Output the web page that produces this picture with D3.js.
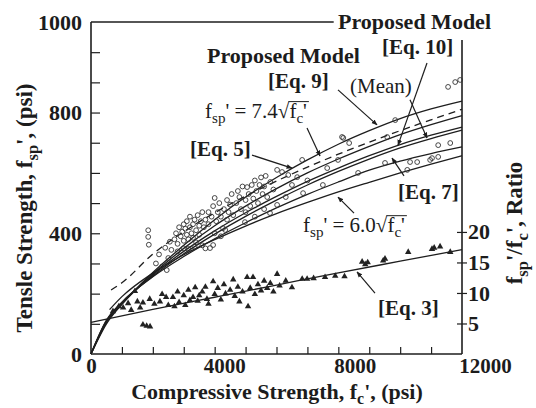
<!DOCTYPE html>
<html><head><meta charset="utf-8">
<script src="https://cdn.jsdelivr.net/npm/d3@7"></script>
<style>
html,body{margin:0;padding:0;background:#fff;}
svg text{font-family:"Liberation Serif","Times New Roman",Times,"DejaVu Serif","Noto Serif",serif;fill:#1c1c1c;}
</style></head><body>
<svg id="chart" width="536" height="408"></svg>
<script>
// ---------------- DATA ----------------
const fcGrid = [0, 500, 1000, 2000, 3000, 4000, 5000, 6000, 7000, 8000, 9000, 10000, 11000, 12000];
const eq9Fsp  = [0, 100, 165, 270, 360, 445, 520, 585, 643, 695, 740, 780, 812, 838];
const eq5Fsp  = [0, 105, 165, 265, 350, 425, 490, 548, 600, 646, 688, 727, 760, 790];
const meanFsp = [0, 108, 168, 262, 340, 408, 468, 522, 572, 616, 657, 694, 725, 752];
const eq10Fsp = [0, 110, 170, 258, 332, 397, 456, 510, 560, 605, 646, 683, 714, 742];
const eq7Fsp  = [0, 112, 172, 256, 323, 382, 435, 484, 529, 570, 609, 639, 664, 686];

const sqrt74Fc  = [650, 1000, 2000, 3000, 4000, 5000, 6000, 7000, 8000, 9000, 10000, 11000, 12000];
const sqrt74Fsp = [212, 236, 331, 405, 468, 523, 573, 619, 662, 702, 740, 776, 811];
const sqrt60Fc  = [600, 1000, 2000, 3000, 4000, 5000, 6000, 7000, 8000, 9000, 10000, 11000, 12000];
const sqrt60Fsp = [147, 190, 268, 329, 379, 424, 465, 502, 537, 569, 600, 629, 657];

const eq3Fc    = [0, 2000, 4000, 6000, 8000, 10000, 12000];
const eq3Ratio = [5.2, 7.3, 9.3, 11.3, 13.3, 15.2, 17.1];

// splitting tensile strength tests (fc', fsp')
const splitTests = [
 [1850,410],[1850,388],[1870,362],
 [2100,300],[2300,290],[2450,278],[2500,318],[2600,345],[2200,330],[2400,352],[2550,372],
 [2700,380],[2750,400],[2800,365],[2850,420],[2900,390],[2950,405],[3000,375],[3000,430],[3050,415],
 [3100,395],[3100,440],[3150,380],[3200,420],[3200,455],[3250,400],[3300,430],[3300,385],[3350,445],
 [3400,410],[3400,370],[3450,460],[3500,425],[3500,395],[3550,440],[3600,470],[3600,360],[2800,340],
 [3000,350],[3150,348],[3350,355],[3700,350],[3850,351],[3950,361],[3650,420],[3700,445],
 [3800,430],[3800,470],[3900,455],[3950,490],[4000,517],[4050,440],[4100,470],[4150,500],[4200,455],
 [4270,417],[4300,480],[4340,411],[4400,510],[4450,470],[4500,495],[4550,530],[4600,460],[4000,400],
 [4200,390],[4400,445],
 [4700,500],[4750,540],[4800,520],[4850,480],[4900,555],[4980,437],[5000,510],[5050,553],[5100,530],
 [5150,490],[5200,560],[5250,515],[5300,575],[5350,540],[5400,500],[5450,560],[5500,585],[5550,530],
 [5600,555],[5650,590],[5700,520],[5790,467],[5800,570],[5900,545],[6020,494],[6020,610],[5000,470],
 [5300,455],[5600,480],
 [6180,603],[6380,593],[6670,586],[6830,643],[6860,533],[6500,560],[6300,520],[7000,575],
 [7640,616],[7990,643],[8120,719],[8160,716],[8640,600],[7500,560],[8350,699],
 [9510,633],[9580,719],[9840,775],[10230,610],[10320,636],[11030,649],[11230,653],[11230,692],
 [11620,699],[11550,885],[11780,901],[11940,908],[10550,636],[10970,643]
];
// ratio tests (fc', fsp'/fc' ratio)
const ratioTests = [
 [710,7.0],[900,7.8],[1040,7.6],[1200,8.3],[1300,7.2],[1420,10.3],[1500,8.6],[1590,7.6],[1680,8.4],
 [1680,4.8],[1800,4.6],[1910,4.5],[1900,9.0],[2050,8.2],[2230,8.6],[2300,9.8],[2430,9.3],[2500,8.0],
 [2650,9.3],[2700,7.8],[2800,10.2],[2850,8.5],[3000,9.6],[3050,8.0],[3150,10.5],[3200,8.8],[3300,9.3],
 [3370,10.9],[3450,8.7],[3500,9.6],[3600,10.2],[3700,11.0],[3750,9.0],[3800,8.2],[3950,11.9],[4000,9.8],
 [4100,10.8],[4200,8.9],[4300,11.4],[4350,9.9],[4500,10.5],[4600,12.2],[4650,9.5],[4750,11.0],[4800,8.6],
 [4900,10.2],[5050,12.6],[5080,7.8],[5150,10.8],[5240,12.6],[5300,9.8],[5400,11.4],[5500,10.4],[5600,12.0],
 [5700,10.8],[5800,11.6],[5900,10.2],[6020,13.1],[6100,11.2],[6300,12.0],[6500,10.9],[6830,12.3],
 [6990,12.3],[7200,12.4],[7570,12.6],[7900,12.8],[8200,12.7],[8770,15.1],[8870,14.7],[8950,15.0],
 [9450,15.3],[9510,15.6],[10260,16.7],[11030,17.2],[11290,17.6],[11620,16.7],[11100,17.4]
];

const xTickValues = [0, 4000, 8000, 12000];
const xTickLabels = ["0", "4000", "8000", "12000"];
const yTickValues = [0, 400, 800, 1100];
const yTickLabels = ["0", "400", "800", "1000"];
const rTickValues = [5, 10, 15, 20];

// ---------------- LAYOUT ----------------
const W = 536, H = 408;
const m = {left: 91, right: 74, top: 22, bottom: 54};
const FONT = '"Liberation Serif","Times New Roman",Times,"DejaVu Serif","Noto Serif",serif';
const svg = d3.select("#chart").attr("font-family", FONT);
const x = d3.scaleLinear().domain([0, 12000]).range([m.left, W - m.right]);
const y = d3.scaleLinear().domain([0, 1100]).range([H - m.bottom, m.top]);
const yR = d3.scaleLinear().domain([0, 54.4]).range([H - m.bottom, m.top]);
const ink = "#1e1e1e";

// frame
const frame = svg.append("g").attr("stroke", ink).attr("stroke-width", 1.6).attr("fill", "none");
frame.append("line").attr("x1", x(0)).attr("x2", x(0)).attr("y1", y(1100)).attr("y2", y(0));
frame.append("line").attr("x1", x(0)).attr("x2", x(12000)).attr("y1", y(0)).attr("y2", y(0));
frame.append("line").attr("x1", x(0)).attr("x2", x(7850)).attr("y1", y(1100)).attr("y2", y(1100));
frame.append("line").attr("x1", x(12000)).attr("x2", x(12000)).attr("y1", y(1040)).attr("y2", y(0));

function styleAxisText(g, size) {
  g.attr("font-family", FONT);
  g.selectAll("text").attr("font-size", size).attr("font-weight", "bold").attr("fill", ink);
}

// left minor ticks (inward)
const gL = svg.append("g").attr("transform", `translate(${x(0)},0)`)
  .call(d3.axisRight(y).tickValues(d3.range(100, 1100, 100)).tickSize(9).tickSizeOuter(0).tickFormat(""));
gL.select(".domain").remove();
gL.selectAll("line").attr("stroke", ink).attr("stroke-width", 1.2);
// left labels
const gLL = svg.append("g").attr("transform", `translate(${x(0)},0)`)
  .call(d3.axisLeft(y).tickValues(yTickValues).tickSize(0).tickPadding(9).tickFormat((d, i) => yTickLabels[i]));
gLL.select(".domain").remove();
styleAxisText(gLL, 22);

// bottom ticks inward
const gB = svg.append("g").attr("transform", `translate(0,${y(0)})`)
  .call(d3.axisTop(x).tickValues(d3.range(1000, 12000, 1000)).tickSize(7).tickSizeOuter(0).tickFormat(""));
gB.select(".domain").remove();
gB.selectAll("line").attr("stroke", ink).attr("stroke-width", 1.2);
const gBL = svg.append("g").attr("transform", `translate(0,${y(0)})`)
  .call(d3.axisBottom(x).tickValues(xTickValues).tickSize(0).tickPadding(4).tickFormat((d, i) => xTickLabels[i]));
gBL.select(".domain").remove();
styleAxisText(gBL, 21);
gBL.selectAll("text").attr("dx", d => d / 12000 * 20 + (d > 0 ? 3 : 0));

// right axis
const gR = svg.append("g").attr("transform", `translate(${x(12000)},0)`)
  .call(d3.axisRight(yR).tickValues(rTickValues).tickSize(5).tickPadding(1).tickFormat(d3.format("d")));
gR.select(".domain").remove();
gR.selectAll("line").attr("x1", -5).attr("stroke", ink).attr("stroke-width", 1.2);
styleAxisText(gR, 22);

// ---------------- rich text helper ----------------
function rich(sel, parts, size) {
  parts.forEach(p => {
    const ts = sel.append("tspan").text(p.t);
    if (p.sub) ts.attr("font-size", size * 0.72).attr("dy", size * 0.24);
    else if (p.after) ts.attr("font-size", size).attr("dy", -size * 0.24);
  });
  return sel;
}

// axis titles
const fsT = 22;
rich(svg.append("text").attr("text-anchor", "middle").attr("font-weight", "bold").attr("font-size", fsT)
  .attr("x", 277).attr("y", 399),
  [{t: "Compressive Strength, f"}, {t: "c", sub: 1}, {t: "', (psi)", after: 1}], fsT);
rich(svg.append("text").attr("text-anchor", "middle").attr("font-weight", "bold").attr("font-size", 23)
  .attr("transform", "translate(32,208) rotate(-90)"),
  [{t: "Tensle Strength, f"}, {t: "sp", sub: 1}, {t: "', (psi)", after: 1}], 23);
rich(svg.append("text").attr("text-anchor", "middle").attr("font-weight", "bold").attr("font-size", 23)
  .attr("transform", "translate(522,223) rotate(-90)"),
  [{t: "f"}, {t: "sp", sub: 1}, {t: "'/f", after: 1}, {t: "c", sub: 1}, {t: "', Ratio", after: 1}], 23);

// ---------------- curves ----------------
const line = d3.line().x(d => x(d[0])).y(d => y(d[1])).curve(d3.curveMonotoneX);
const curves = svg.append("g").attr("fill", "none").attr("stroke", ink);
[eq9Fsp, eq5Fsp, meanFsp, eq10Fsp, eq7Fsp].forEach(arr => {
  curves.append("path").attr("d", line(fcGrid.map((f, i) => [f, arr[i]]))).attr("stroke-width", 1.3);
});
curves.append("path").attr("d", line(sqrt60Fc.map((f, i) => [f, sqrt60Fsp[i]]))).attr("stroke-width", 1.3);
curves.append("path").attr("d", line(sqrt74Fc.map((f, i) => [f, sqrt74Fsp[i]])))
  .attr("stroke-width", 1.3).attr("stroke-dasharray", "7,5");
const lineR = d3.line().x(d => x(d[0])).y(d => yR(d[1])).curve(d3.curveMonotoneX);
curves.append("path").attr("d", lineR(eq3Fc.map((f, i) => [f, eq3Ratio[i]]))).attr("stroke-width", 1.3);

// ---------------- points ----------------
svg.append("g").selectAll("circle").data(splitTests).join("circle")
  .attr("cx", d => x(d[0])).attr("cy", d => y(d[1])).attr("r", 2.4)
  .attr("fill", "none").attr("stroke", "#333").attr("stroke-width", 0.9);
const tri = d3.symbol().type(d3.symbolTriangle).size(18);
svg.append("g").selectAll("path").data(ratioTests).join("path")
  .attr("d", tri).attr("transform", d => `translate(${x(d[0])},${yR(d[1])})`).attr("fill", "#222");

// ---------------- annotations ----------------
svg.append("defs").append("marker").attr("id", "ah").attr("viewBox", "0 0 10 10")
  .attr("refX", 9).attr("refY", 5).attr("markerWidth", 5).attr("markerHeight", 5).attr("orient", "auto")
  .append("path").attr("d", "M0,1 L10,5 L0,9 z").attr("fill", ink);

const leaders = [
  {from: [7989, 875], to: [9251, 759]},
  {from: [10318, 842], to: [10868, 716]},
  {from: [10868, 964], to: [9930, 692]},
  {from: [10124, 590], to: [9736, 649]},
  {from: [5208, 659], to: [6501, 616]},
  {from: [6987, 749], to: [7407, 656]},
  {from: [8507, 467], to: [7989, 520]},
  {from: [9186, 202], to: [8604, 272]}
];
svg.append("g").selectAll("line").data(leaders).join("line")
  .attr("x1", d => x(d.from[0])).attr("y1", d => y(d.from[1]))
  .attr("x2", d => x(d.to[0])).attr("y2", d => y(d.to[1]))
  .attr("stroke", ink).attr("stroke-width", 1.2).attr("marker-end", "url(#ah)");

const fsA = 21;
const labels = [
  {t: "Proposed Model", at: [7990, 1076], bold: 1, size: 22},
  {t: "[Eq. 10]", at: [9413, 994], bold: 1, size: 21},
  {t: "Proposed Model", at: [3752, 964], bold: 1, size: 22},
  {t: "[Eq. 9]", at: [5726, 881], bold: 1, size: 21},
  {t: "(Mean)", at: [8379, 865], bold: 0, size: 21},
  {t: "[Eq. 5]", at: [3203, 656], bold: 1, size: 21},
  {t: "[Eq. 7]", at: [9932, 514], bold: 1, size: 21},
  {t: "[Eq. 3]", at: [9285, 129], bold: 1, size: 21}
];
svg.append("g").selectAll("text").data(labels).join("text")
  .attr("x", d => x(d.at[0])).attr("y", d => y(d.at[1]))
  .attr("font-size", d => d.size).attr("font-weight", d => d.bold ? "bold" : "normal").text(d => d.t);

function sqrtLabel(coef, at) {
  const g = svg.append("g").attr("transform", `translate(${x(at[0])},${y(at[1])})`);
  const t1 = rich(g.append("text").attr("font-size", fsA),
    [{t: "f"}, {t: "sp", sub: 1}, {t: "' = " + coef + " ", after: 1}], fsA);
  const l1 = t1.node().getComputedTextLength();
  const t2 = g.append("text").attr("font-size", fsA).attr("x", l1).text("\u221A");
  const l2 = t2.node().getComputedTextLength();
  const t3 = rich(g.append("text").attr("font-size", fsA).attr("x", l1 + l2),
    [{t: "f"}, {t: "c", sub: 1}, {t: "'", after: 1}], fsA);
  const l3 = t3.node().getComputedTextLength();
  g.append("line").attr("x1", l1 + l2 - 1).attr("x2", l1 + l2 + l3 + 2)
    .attr("y1", -fsA * 0.78).attr("y2", -fsA * 0.78).attr("stroke", ink).attr("stroke-width", 1);
}
sqrtLabel("7.4", [3688, 782]);
sqrtLabel("6.0", [6858, 404]);
</script>
</body></html>
